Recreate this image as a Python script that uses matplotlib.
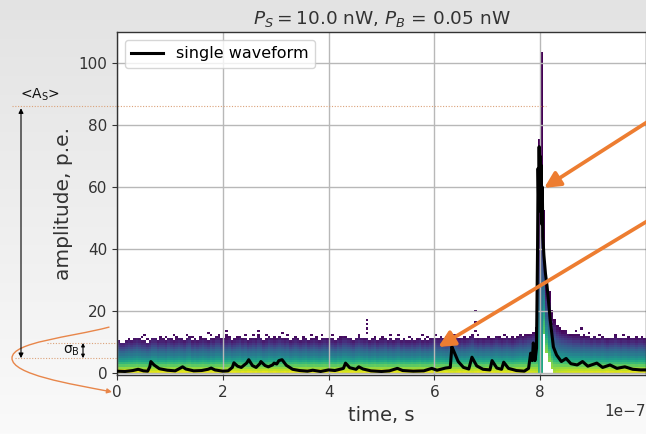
import numpy as np
import matplotlib
matplotlib.use('Agg')
import matplotlib.pyplot as plt
import matplotlib.transforms as mtransforms
from matplotlib.colors import LinearSegmentedColormap
from matplotlib.path import Path
from matplotlib.patches import FancyArrowPatch

# histogram of many waveforms: 200 time bins of 5 ns
bin_ns = 5
band_hi = [
    10, 9.5, 9.5, 10, 10.5, 10, 10.5, 11, 10.5, 10, 10, 9.5, 10, 11, 11, 10, 10.5, 10.5, 10, 11,
    10.5, 10, 10.5, 11, 10.5, 10, 11, 11.5, 10, 10.5, 10, 10.5, 11, 10.5, 10, 11, 10.5, 11.5, 11.5, 10.5,
    11, 10.5, 11, 10, 10.5, 11, 11.5, 10.5, 11, 10, 10.5, 11, 10.5, 11.5, 11, 10, 10.5, 11.5, 11, 10.5,
    11, 11.5, 11, 10.5, 11, 10, 10.5, 11, 10.5, 10, 10.5, 11, 10, 10.5, 11, 10.5, 10, 10.5, 11, 10.5,
    11, 10.5, 10, 11, 10.5, 11.5, 11.5, 11, 10.5, 10, 11, 11.5, 11, 10.5, 11, 10, 10.5, 11, 10, 10.5,
    10.5, 11, 10, 10.5, 10, 10.5, 11, 10, 10.5, 10, 10, 10.5, 10, 10.5, 11, 10, 10.5, 10, 10.5, 11,
    11, 10.5, 11.5, 11, 10.5, 11, 11.5, 12, 11, 10.5, 11, 10.5, 11, 11.5, 12, 11, 10.5, 11, 10.5, 11,
    11, 10.5, 11, 11.5, 11, 10.5, 11, 11.5, 11, 10.5, 11, 11.5, 12, 11.5, 12, 12.5, 12.5, 13, 14, 75,
    103, 52, 30, 26, 20, 17, 15, 14, 13.5, 13, 12.5, 12.5, 12, 12, 12, 11.5, 12, 11.5, 11.5, 11,
    11.5, 11, 11, 11.5, 11, 10.5, 11, 11, 11.5, 11, 10.5, 11, 11, 10.5, 11, 11, 10.5, 11, 11, 10.5,
]
lo_bins = [161, 162, 163, 164]
lo_vals = [12, 6, 3, 1]

# colour level (viridis) from bottom to top of the band
prof_frac = [0.0, 0.10, 0.22, 0.36, 0.50, 0.64, 0.76, 0.88, 1.0]
prof_level = [0.95, 0.88, 0.72, 0.56, 0.42, 0.32, 0.22, 0.12, 0.04]

# isolated counts above the band (time in 1e-7 s, amplitude p.e.)
speck_t = [0.46, 0.52, 0.58, 1.08, 1.12, 1.72, 1.78, 2.06, 2.06, 2.06, 2.30, 2.42,
           2.66, 2.66, 3.13, 3.37, 3.66, 3.88, 4.05, 4.20, 4.60, 4.70, 4.70, 4.70,
           4.70, 5.30, 5.87, 6.05, 6.75, 6.75, 6.75, 6.85, 7.00, 7.45, 7.60, 8.25,
           8.25, 8.50, 8.68, 8.75, 8.95, 9.40, 9.82, 9.90,
           0.20, 0.80, 0.95, 1.30, 1.45, 1.55, 1.95, 2.15, 2.55, 2.85, 3.00, 3.25,
           3.50, 3.80, 4.10, 4.35, 4.90, 5.05, 5.15, 5.50, 5.65, 5.75, 6.20, 6.40,
           6.55, 7.20, 7.30, 7.80, 8.40, 8.60, 8.85, 9.10, 9.20, 9.55, 9.65]
speck_a = [11.5, 12.2, 11.2, 12.3, 11.4, 13.2, 12.5, 11.5, 12.5, 13.6, 11.8, 12.0,
           12.4, 13.4, 13.0, 11.8, 12.0, 12.5, 12.0, 11.8, 12.0, 13.2, 14.5, 15.8,
           17.0, 12.0, 11.6, 12.0, 20.0, 16.5, 14.0, 12.2, 11.8, 11.8, 11.6, 15.8,
           17.0, 13.6, 13.5, 14.5, 12.8, 12.6, 11.6, 11.8,
           11.0, 11.6, 11.4, 12.0, 11.6, 11.8, 12.2, 11.8, 11.9, 12.0, 11.5, 12.4,
           11.6, 11.4, 12.2, 11.5, 11.8, 11.4, 12.0, 11.6, 11.2, 12.1, 11.6, 12.3,
           11.7, 11.5, 12.2, 11.9, 13.0, 12.4, 11.8, 12.2, 11.6, 11.9, 11.4]

# single waveform (time in 1e-7 s)
wf_t = [0.00, 0.15, 0.30, 0.40, 0.50, 0.58, 0.62, 0.64, 0.70, 0.80,
        0.95, 1.10, 1.20, 1.24, 1.30, 1.45, 1.60, 1.72, 1.78, 1.85,
        2.00, 2.10, 2.18, 2.21, 2.28, 2.35, 2.45, 2.49, 2.56, 2.63,
        2.70, 2.72, 2.80, 2.86, 2.94, 2.97, 3.02, 3.06, 3.12, 3.20,
        3.32, 3.45, 3.60, 3.70, 3.85, 4.00, 4.12, 4.28, 4.32, 4.40,
        4.52, 4.57, 4.65, 4.80, 5.00, 5.15, 5.30, 5.40, 5.60, 5.80,
        5.95, 6.05, 6.21, 6.30, 6.33, 6.37, 6.45, 6.55, 6.65, 6.71,
        6.80, 6.92, 7.05, 7.09, 7.18, 7.27, 7.31, 7.40, 7.55, 7.70,
        7.78, 7.82, 7.85, 7.87, 7.90, 7.93, 7.95, 7.96, 7.97, 7.98,
        7.99, 8.00, 8.01, 8.02, 8.03, 8.04, 8.05, 8.07, 8.10, 8.13,
        8.19, 8.25, 8.31, 8.40, 8.49, 8.58, 8.70, 8.80, 8.90, 9.07,
        9.18, 9.32, 9.45, 9.60, 9.75, 9.90, 10.0]
wf_a = [0.6, 0.5, 0.8, 1.2, 0.7, 0.6, 2.0, 3.7, 2.6, 1.4,
        0.9, 0.7, 1.6, 2.0, 1.3, 0.7, 0.8, 1.2, 1.6, 1.0,
        0.6, 0.7, 1.8, 3.3, 2.2, 1.8, 3.2, 4.3, 2.4, 1.8,
        3.0, 3.7, 2.4, 2.0, 2.6, 3.2, 2.9, 4.0, 4.3, 2.5,
        1.2, 0.8, 0.6, 0.9, 0.5, 1.0, 0.8, 1.5, 3.2, 1.7,
        1.2, 2.0, 1.3, 0.7, 0.5, 0.7, 1.5, 0.8, 0.6, 0.7,
        1.5, 0.9, 1.6, 1.8, 8.5, 6.9, 3.7, 1.8, 1.3, 5.1,
        2.3, 1.2, 1.0, 4.0, 1.6, 1.2, 3.5, 1.5, 0.8, 0.6,
        1.5, 6.4, 4.0, 9.7, 4.0, 8.0, 40, 66, 56, 73,
        60, 70, 52, 67, 48, 60, 44, 38, 32, 28,
        17, 8.4, 5.8, 3.7, 4.7, 3.0, 2.6, 3.7, 2.2, 3.2,
        1.8, 2.6, 1.5, 2.0, 1.2, 1.0, 1.0]

A_S_mean = 86
mu_B = 4.8
sigma_B = 4.9

orange = '#ED7D31'

fig = plt.figure(figsize=(6.46, 4.34), dpi=100)

# light grey background gradient
bg = fig.add_axes([0, 0, 1, 1], zorder=-10)
grad = np.linspace(0, 1, 256).reshape(-1, 1)
bg.imshow(grad, aspect='auto', extent=[0, 1, 0, 1], origin='upper',
          cmap=LinearSegmentedColormap.from_list('bg', ['#e3e3e3', '#fafafa']))
bg.axis('off')

ax = fig.add_axes([0.1811, 0.1348, 0.8189, 0.7915])

n = len(band_hi)
lo_arr = np.zeros(n)
lo_arr[lo_bins] = lo_vals
t_edges = np.arange(n + 1) * bin_ns * 1e-9
a_edges = np.arange(0, 110.5, 0.7)
a_bot = a_edges[:-1]
C = np.full((len(a_bot), n), np.nan)
for i in range(n):
    lo, hi = lo_arr[i], band_hi[i]
    f = (a_bot - lo) / (hi - lo)
    m = (f >= 0) & (f <= 1)
    C[m, i] = np.interp(f[m], prof_frac, prof_level) - 0.35 * np.log10((hi - lo) / 11)
for t, a in zip(speck_t, speck_a):
    i = int(t * 1e-7 / (bin_ns * 1e-9))
    j = np.searchsorted(a_edges, a) - 1
    C[j, i] = 0.03
ax.pcolormesh(t_edges, a_edges, np.ma.masked_invalid(C), cmap='viridis',
              vmin=0, vmax=1, zorder=1)

ax.plot(np.array(wf_t) * 1e-7, wf_a, color='black', lw=2.2, zorder=3,
        label='single waveform')

ax.set_xlim(0, 1e-6)
ax.set_ylim(-0.8, 110)
ax.set_xticks(np.array([0, 2, 4, 6, 8]) * 1e-7)
ax.set_yticks([0, 20, 40, 60, 80, 100])
ax.grid(True, color='#b8b8b8', lw=1)
ax.set_axisbelow('line')
ax.tick_params(labelsize=11, colors='#333333')
ax.xaxis.get_offset_text().set_fontsize(11)
ax.xaxis.get_offset_text().set_color('#333333')
for s in ax.spines.values():
    s.set_color('#333333')
    s.set_linewidth(1)
ax.set_xlabel('time, s', fontsize=14, color='#333333')
ax.set_ylabel('amplitude, p.e.', fontsize=14.5, color='#333333')
ax.set_title(r'$P_S=10.0$ nW, $P_B$ = 0.05 nW', fontsize=13.3, color='#333333')
ax.legend(loc='upper left', fontsize=11.5)

# annotations left of the axes: x in pixels, y in amplitude
px = mtransforms.blended_transform_factory(mtransforms.IdentityTransform(), ax.transData)
dot = dict(color='#dba27a', lw=0.8, ls=(0, (1, 1.5)), transform=px, clip_on=False)
ax.plot([12, 546], [A_S_mean, A_S_mean], **dot)
ax.plot([15, 117], [mu_B, mu_B], **dot)
ax.plot([47, 117], [mu_B + sigma_B, mu_B + sigma_B], **dot)

ax.annotate('', xy=(21, A_S_mean - 0.6), xytext=(21, mu_B), xycoords=px, textcoords=px,
            arrowprops=dict(arrowstyle='<|-|>', color='black', lw=0.8,
                            mutation_scale=7, shrinkA=0, shrinkB=0),
            annotation_clip=False)
ax.text(40, A_S_mean + 1.2, r'<A$_\mathrm{S}$>', transform=px, fontsize=10,
        ha='center', va='bottom', color='#111111')
ax.annotate('', xy=(83, mu_B + sigma_B), xytext=(83, mu_B), xycoords=px, textcoords=px,
            arrowprops=dict(arrowstyle='<|-|>', color='black', lw=0.8,
                            mutation_scale=5, shrinkA=0, shrinkB=0),
            annotation_clip=False)
ax.text(71, mu_B + sigma_B / 2, r'σ$_\mathrm{B}$', transform=px, fontsize=10,
        ha='center', va='center', color='#111111')

# sideways gaussian of the background amplitude
verts = [(109, 14.8), (70, 11.5), (12, 10), (12, 4.8),
         (12, -0.5), (70, -3.5), (112, -6.1)]
codes = [Path.MOVETO] + [Path.CURVE4] * 6
g = FancyArrowPatch(path=Path(verts, codes), arrowstyle='-|>', mutation_scale=7,
                    color='#e8864a', lw=1, transform=px, clip_on=False)
ax.add_patch(g)

# orange arrows pointing into the plot
for tail, tip in [((1.02e-6, 82.9), (8.075e-7, 59.7)),
                  ((1.02e-6, 50.8), (6.075e-7, 8.4))]:
    ax.annotate('', xy=tip, xytext=tail,
                arrowprops=dict(arrowstyle='-|>', color=orange, lw=2.7,
                                mutation_scale=24, shrinkA=0, shrinkB=0),
                annotation_clip=False, zorder=5)

fig.savefig('out.png', dpi=100)
